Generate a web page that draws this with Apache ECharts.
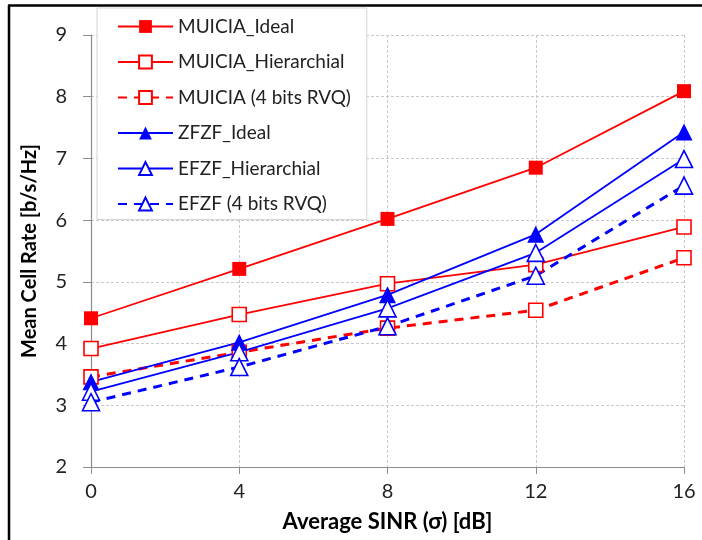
<!DOCTYPE html>
<html>
<head>
<meta charset="utf-8">
<script src="https://cdn.jsdelivr.net/npm/echarts@6/dist/echarts.min.js"></script>
<style>
  html, body { margin: 0; padding: 0; background: #fff; }
  #chart { width: 702px; height: 540px; }
</style>
</head>
<body>
<div id="chart"></div>
<script>
// Average SINR in dB
const sinr = [0, 4, 8, 12, 16];

// Mean cell rate [b/s/Hz] per scheme
const muiciaIdeal = [4.41, 5.21, 6.02, 6.85, 8.09];
const muiciaHier  = [3.92, 4.47, 4.97, 5.28, 5.89];
const muiciaRvq   = [3.46, 3.86, 4.25, 4.54, 5.39];
const zfzfIdeal   = [3.38, 4.02, 4.79, 5.77, 7.43];
const efzfHier    = [3.22, 3.86, 4.57, 5.47, 6.99];
const efzfRvq     = [3.05, 3.62, 4.28, 5.10, 6.56];

const yTicks = [2, 3, 4, 5, 6, 7, 8, 9];
const xTicks = [0, 4, 8, 12, 16];

const RED = '#ff0000';
const BLUE = '#0000ff';
const FONT = 'Lato, "Open Sans", sans-serif';

function pairs(ys) { return sinr.map((x, i) => [x, ys[i]]); }

function makeSeries(name, ys, color, symbol, hollow, dashed) {
  return {
    name: name,
    type: 'line',
    data: pairs(ys),
    symbol: symbol,
    symbolSize: symbol === 'triangle' ? 17 : 14,
    showAllSymbol: true,
    lineStyle: { color: color, width: dashed ? 3 : 1.8, type: dashed ? [9, 7] : 'solid' },
    itemStyle: hollow
      ? { color: '#fff', borderColor: color, borderWidth: 1.6 }
      : { color: color, borderColor: color, borderWidth: 0 },
    z: 3
  };
}

const chart = echarts.init(document.getElementById('chart'), null, { renderer: 'canvas' });

chart.setOption({
  backgroundColor: '#fff',
  animation: false,
  textStyle: { fontFamily: FONT },
  grid: { left: 91, right: 18, top: 35, bottom: 73 },
  xAxis: {
    type: 'value',
    min: xTicks[0], max: xTicks[xTicks.length - 1], interval: 4,
    name: 'Average SINR (σ) [dB]',
    nameLocation: 'middle',
    nameGap: 44,
    nameTextStyle: { fontFamily: FONT, fontSize: 22, fontWeight: 'bold', color: '#000' },
    axisLine: { lineStyle: { color: '#8c8c8c', width: 1.2 } },
    axisTick: { show: true, length: 7, lineStyle: { color: '#8c8c8c' } },
    axisLabel: { fontFamily: FONT, fontSize: 20, color: '#222', margin: 15 },
    splitLine: { show: true, lineStyle: { color: '#c8c8c8', type: [3, 2], width: 1 } }
  },
  yAxis: {
    type: 'value',
    min: yTicks[0], max: yTicks[yTicks.length - 1], interval: 1,
    name: 'Mean Cell Rate [b/s/Hz]',
    nameLocation: 'middle',
    nameGap: 51,
    nameTextStyle: { fontFamily: FONT, fontSize: 20, fontWeight: 'bold', color: '#000' },
    axisLine: { show: true, lineStyle: { color: '#8c8c8c', width: 1.2 } },
    axisTick: { show: true, length: 8, lineStyle: { color: '#8c8c8c' } },
    axisLabel: { fontFamily: FONT, fontSize: 20, color: '#222', margin: 24 },
    splitLine: { show: true, lineStyle: { color: '#c8c8c8', type: [3, 2], width: 1 } }
  },
  legend: {
    orient: 'vertical',
    left: 97, top: 8,
    itemWidth: 55, itemHeight: 16,
    itemGap: 16.5,
    padding: [9, 16, 6, 20],
    backgroundColor: '#fff',
    borderColor: '#d4d4d4',
    borderWidth: 1,
    textStyle: { fontFamily: FONT, fontSize: 19, color: '#222' },
    data: ['MUICIA_Ideal', 'MUICIA_Hierarchial', 'MUICIA (4 bits RVQ)',
           'ZFZF_Ideal', 'EFZF_Hierarchial', 'EFZF (4 bits RVQ)']
  },
  graphic: [
    { type: 'line', shape: { x1: 8, y1: 5.5, x2: 702, y2: 5.5 }, style: { stroke: '#000', lineWidth: 2.5 }, z: 100 },
    { type: 'line', shape: { x1: 9, y1: 5, x2: 9, y2: 540 }, style: { stroke: '#000', lineWidth: 2.5 }, z: 100 }
  ],
  series: [
    makeSeries('MUICIA_Ideal', muiciaIdeal, RED, 'rect', false, false),
    makeSeries('MUICIA_Hierarchial', muiciaHier, RED, 'rect', true, false),
    makeSeries('MUICIA (4 bits RVQ)', muiciaRvq, RED, 'rect', true, true),
    makeSeries('ZFZF_Ideal', zfzfIdeal, BLUE, 'triangle', false, false),
    makeSeries('EFZF_Hierarchial', efzfHier, BLUE, 'triangle', true, false),
    makeSeries('EFZF (4 bits RVQ)', efzfRvq, BLUE, 'triangle', true, true)
  ]
});
</script>
</body>
</html>
